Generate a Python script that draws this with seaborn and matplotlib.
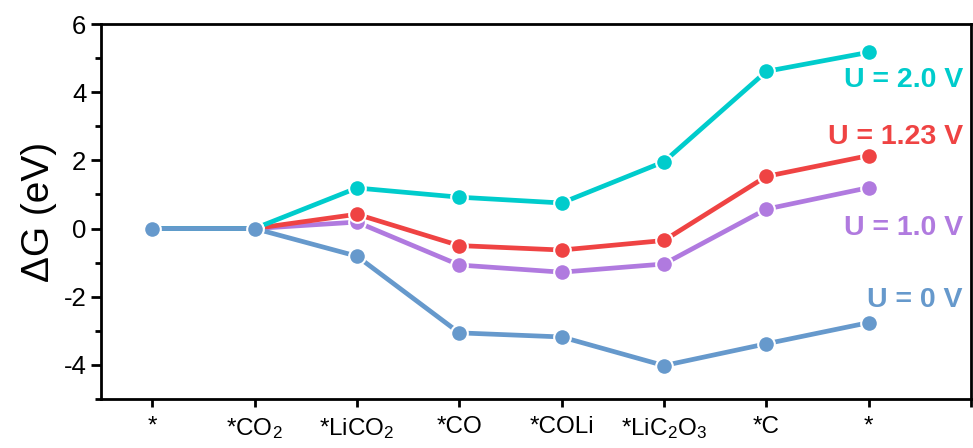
import matplotlib
matplotlib.use("Agg")
import matplotlib.pyplot as plt
from matplotlib.ticker import MultipleLocator
import seaborn as sns
import pandas as pd

steps = ["*", r"*CO$_2$", r"*LiCO$_2$", "*CO", "*COLi", r"*LiC$_2$O$_3$", "*C", "*"]
u0 = [0.0, 0.0, -0.81, -3.06, -3.18, -4.02, -3.38, -2.76]
u10 = [0.0, 0.0, 0.19, -1.07, -1.28, -1.04, 0.57, 1.20]
u123 = [0.0, 0.0, 0.42, -0.50, -0.63, -0.35, 1.53, 2.14]
u20 = [0.0, 0.0, 1.19, 0.92, 0.75, 1.96, 4.61, 5.17]
series_names = ["U = 1.0 V", "U = 1.23 V", "U = 2.0 V", "U = 0 V"]
series_vals = [u10, u123, u20, u0]
colors = {"U = 1.0 V": "#B07ADF", "U = 1.23 V": "#EF4343",
          "U = 2.0 V": "#00CCCC", "U = 0 V": "#6699CC"}
label_y = {"U = 2.0 V": 4.35, "U = 1.23 V": 2.68, "U = 1.0 V": 0.03, "U = 0 V": -2.1}

rows = []
for name, vals in zip(series_names, series_vals):
    for i, v in enumerate(vals):
        rows.append({"step": i, "dG": v, "U": name})
df = pd.DataFrame(rows)

sns.set_style("ticks")
plt.rcParams["font.family"] = ["Liberation Sans", "DejaVu Sans"]
plt.rcParams["mathtext.fontset"] = "custom"
plt.rcParams["mathtext.rm"] = "Liberation Sans"
plt.rcParams["mathtext.it"] = "Liberation Sans"
plt.rcParams["axes.unicode_minus"] = False
for k in ["text.color", "axes.labelcolor", "xtick.color", "ytick.color", "axes.edgecolor"]:
    plt.rcParams[k] = "black"

fig = plt.figure(figsize=(9.73, 4.48), dpi=100)
ax = fig.add_axes([0.1038, 0.1094, 0.8942, 0.837])

sns.lineplot(data=df, x="step", y="dG", hue="U", hue_order=series_names,
             palette=colors, marker="o", markersize=12, linewidth=3.4,
             markeredgecolor="white", markeredgewidth=1.5, legend=False,
             sort=False, ax=ax, estimator=None)

for name in series_names:
    ax.text(7.92, label_y[name], name, color=colors[name], fontsize=20.5,
            fontweight="bold", ha="right", va="center")

ax.set_xlim(-0.5, 8)
ax.set_ylim(-5, 6)
ax.set_xticks(range(9))
ax.set_xticklabels(steps + [""], fontsize=17.5)
ax.yaxis.set_major_locator(MultipleLocator(2))
ax.yaxis.set_minor_locator(MultipleLocator(1))
ax.tick_params(axis="y", which="major", labelsize=18.5, length=7, width=2, direction="out")
ax.tick_params(axis="y", which="minor", length=4, width=2, direction="out")
ax.tick_params(axis="x", length=6, width=2, direction="out", pad=6)
ax.set_xlabel("")
ax.set_ylabel("ΔG (eV)", fontsize=28, labelpad=5)
for s in ax.spines.values():
    s.set_linewidth(2)
    s.set_color("black")

fig.savefig("out.png", dpi=100)
